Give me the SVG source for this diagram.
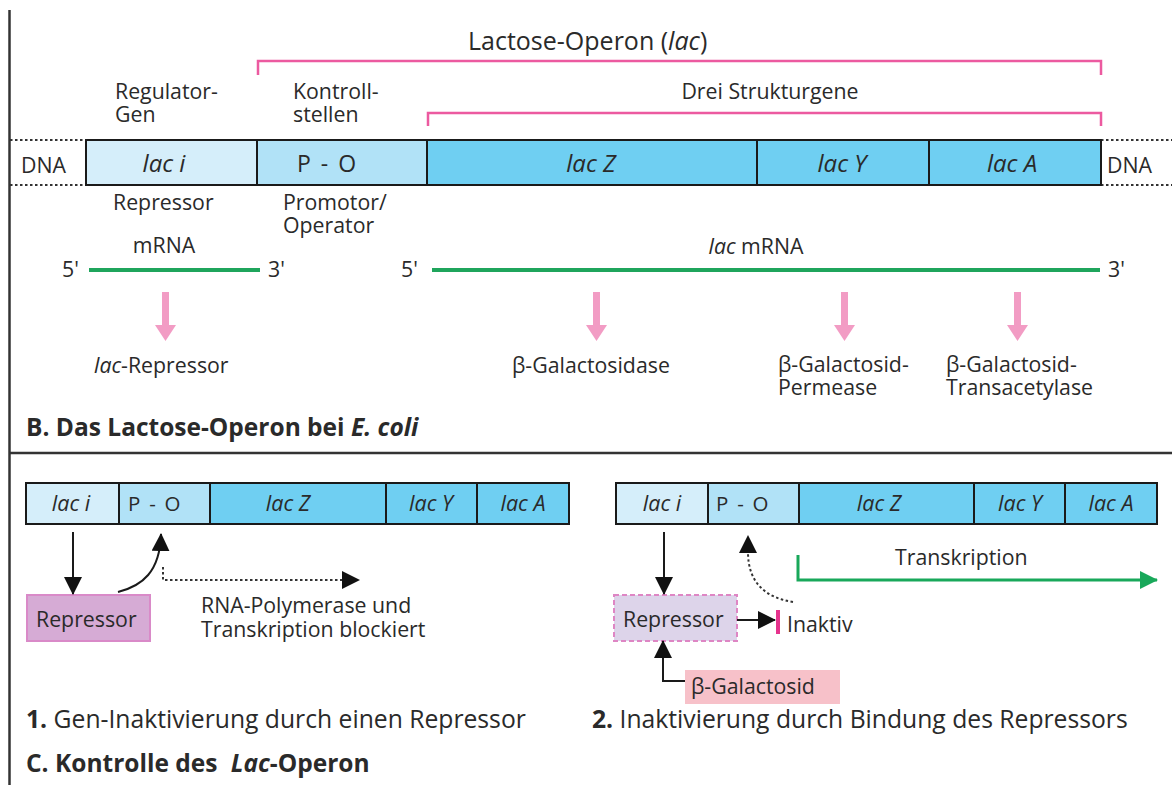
<svg xmlns="http://www.w3.org/2000/svg" width="1172" height="785" viewBox="0 0 1172 785">
<defs>
<style>
text{font-family:"Open Sans","Liberation Sans",sans-serif;fill:#2a2a2a}
.lbl{font-size:21.3px}
.gene{font-size:24px;font-style:italic;text-anchor:middle}
.gene2{font-size:21.5px;font-style:italic;text-anchor:middle}
.po{font-size:23px;word-spacing:4px}
.po2{font-size:20.5px;word-spacing:3.5px}
.cap{font-size:24.7px}
.title{font-size:24.5px;font-weight:bold}
.box{stroke:#1a1a1a;stroke-width:2}
.c1{fill:#d5eefa}
.c2{fill:#b1e2f7}
.c3{fill:#6fcff2}
.brk{fill:none;stroke:#ec5aa0;stroke-width:2.5}
.mrna{stroke:#1fa55c;stroke-width:4}
.dots{stroke:#333;stroke-width:2;stroke-dasharray:2.5,2.5}
.pk{fill:#f29cc4}
.blk{fill:none;stroke:#1a1a1a;stroke-width:2}
</style>
<marker id="ah" viewBox="0 0 18 18" refX="17" refY="9" markerWidth="18" markerHeight="18" markerUnits="userSpaceOnUse" orient="auto">
<path d="M0,0 L18,9 L0,18 z" fill="#111"/>
</marker>
<marker id="ahg" viewBox="0 0 18 18" refX="17" refY="9" markerWidth="18" markerHeight="18" markerUnits="userSpaceOnUse" orient="auto">
<path d="M0,0 L18,9 L0,18 z" fill="#19a85a"/>
</marker>
</defs>
<rect width="1172" height="785" fill="#fff"/>
<g id="frame">
<line x1="9.5" y1="10" x2="9.5" y2="785" stroke="#333" stroke-width="2.5"/>
<line x1="9" y1="453" x2="1172" y2="453" stroke="#333" stroke-width="2.5"/>
</g>

<!-- Section B -->
<g id="operon-label">
<text x="468" y="50" style="font-size:25px">Lactose-Operon (<tspan font-style="italic">lac</tspan>)</text>
<path class="brk" d="M258,75 V61 H1101 V75"/>
<text x="770" y="99" class="lbl" text-anchor="middle">Drei Strukturgene</text>
<path class="brk" d="M428,126 V113 H1101 V126"/>
</g>
<g id="top-labels">
<text x="115" y="99" class="lbl">Regulator-<tspan x="115" dy="23">Gen</tspan></text>
<text x="293" y="99" class="lbl">Kontroll-<tspan x="293" dy="23">stellen</tspan></text>
</g>
<g id="dna">
<line class="dots" x1="10" y1="140" x2="86" y2="140"/>
<line class="dots" x1="10" y1="185" x2="86" y2="185"/>
<line class="dots" x1="1101" y1="140" x2="1172" y2="140"/>
<line class="dots" x1="1101" y1="185" x2="1172" y2="185"/>
<text x="21" y="173" class="lbl">DNA</text>
<text x="1107" y="173" class="lbl">DNA</text>
</g>
<g id="gene-laci"><rect class="box c1" x="86" y="140" width="171" height="45"/><text x="164" y="172" class="gene">lac i</text></g>
<g id="gene-po"><rect class="box c2" x="257" y="140" width="170" height="45"/><text x="297" y="172" class="po">P - O</text></g>
<g id="gene-lacz"><rect class="box c3" x="427" y="140" width="330" height="45"/><text x="591" y="172" class="gene">lac Z</text></g>
<g id="gene-lacy"><rect class="box c3" x="757" y="140" width="172" height="45"/><text x="842" y="172" class="gene">lac Y</text></g>
<g id="gene-laca"><rect class="box c3" x="929" y="140" width="172" height="45"/><text x="1012" y="172" class="gene">lac A</text></g>
<g id="below-labels">
<text x="113" y="210" class="lbl">Repressor</text>
<text x="283" y="210" class="lbl">Promotor/<tspan x="283" dy="23">Operator</tspan></text>
<text x="164" y="253" class="lbl" text-anchor="middle">mRNA</text>
<text x="756" y="254" class="lbl" text-anchor="middle"><tspan font-style="italic">lac</tspan> mRNA</text>
</g>
<g id="mrna">
<text x="62" y="277" class="lbl">5'</text>
<line class="mrna" x1="89" y1="270" x2="260" y2="270"/>
<text x="268" y="277" class="lbl">3'</text>
<text x="401" y="277" class="lbl">5'</text>
<line class="mrna" x1="432" y1="270" x2="1100" y2="270"/>
<text x="1108" y="277" class="lbl">3'</text>
</g>
<g id="translation-arrows">
<path class="pk" d="M162,292 H169 V325 H176 L165.5,341 L155,325 H162 Z"/>
<path class="pk" d="M593,292 H600 V325 H607 L596.5,341 L586,325 H593 Z"/>
<path class="pk" d="M841,292 H848 V325 H855 L844.5,341 L834,325 H841 Z"/>
<path class="pk" d="M1014,292 H1021 V325 H1028 L1017.5,341 L1007,325 H1014 Z"/>
</g>
<g id="products">
<text x="94" y="373" class="lbl"><tspan font-style="italic">lac</tspan>-Repressor</text>
<text x="512" y="373" class="lbl">β-Galactosidase</text>
<text x="778" y="372" class="lbl">β-Galactosid-<tspan x="778" dy="23">Permease</tspan></text>
<text x="946" y="372" class="lbl">β-Galactosid-<tspan x="946" dy="23">Transacetylase</tspan></text>
</g>
<text x="26" y="436" class="title">B. Das Lactose-Operon bei <tspan font-style="italic">E. coli</tspan></text>

<!-- Section C1 -->
<g id="c1-bar">
<rect class="box c1" x="26" y="483" width="93" height="41"/><text x="71" y="511" class="gene2">lac i</text>
<rect class="box c2" x="119" y="483" width="91" height="41"/><text x="128" y="511" class="po2">P - O</text>
<rect class="box c3" x="210" y="483" width="176" height="41"/><text x="288" y="511" class="gene2">lac Z</text>
<rect class="box c3" x="386" y="483" width="91" height="41"/><text x="431" y="511" class="gene2">lac Y</text>
<rect class="box c3" x="477" y="483" width="92" height="41"/><text x="523" y="511" class="gene2">lac A</text>
</g>
<g id="c1-repressor">
<rect x="27" y="595" width="123" height="46" fill="#d6abd5" stroke="#d98ac8" stroke-width="2"/>
<text x="36" y="627" class="lbl">Repressor</text>
</g>
<g id="c1-connectors">
<path class="blk" d="M73,532 V594" marker-end="url(#ah)"/>
<path class="blk" d="M118,592 C142,586 160,572 161,534" marker-end="url(#ah)"/>
<path class="dots" fill="none" d="M163,567 V580 H355"/>
<path d="M342,571 L360,580 L342,589 z" fill="#111"/>
</g>
<text x="201" y="613" class="lbl">RNA-Polymerase und<tspan x="201" dy="24">Transkription blockiert</tspan></text>
<text x="26" y="728" class="cap"><tspan font-weight="bold">1.</tspan> Gen-Inaktivierung durch einen Repressor</text>
<text x="26" y="772" class="title">C. Kontrolle des <tspan dx="7" font-style="italic">Lac</tspan>-Operon</text>

<!-- Section C2 -->
<g id="c2-bar">
<rect class="box c1" x="616" y="483" width="92" height="41"/><text x="662" y="511" class="gene2">lac i</text>
<rect class="box c2" x="708" y="483" width="91" height="41"/><text x="716" y="511" class="po2">P - O</text>
<rect class="box c3" x="799" y="483" width="175" height="41"/><text x="879" y="511" class="gene2">lac Z</text>
<rect class="box c3" x="974" y="483" width="91" height="41"/><text x="1020" y="511" class="gene2">lac Y</text>
<rect class="box c3" x="1065" y="483" width="92" height="41"/><text x="1111" y="511" class="gene2">lac A</text>
</g>
<g id="c2-repressor">
<rect x="614" y="595" width="123" height="46" fill="#ddd4ea" stroke="#de86c4" stroke-width="2" stroke-dasharray="5,3"/>
<text x="623" y="627" class="lbl">Repressor</text>
</g>
<g id="c2-galactosid">
<rect x="685" y="670" width="155" height="34" fill="#f7c1c9"/>
<text x="691" y="694" class="lbl">β-Galactosid</text>
</g>
<g id="c2-connectors">
<path class="blk" d="M664,532 V594" marker-end="url(#ah)"/>
<path class="blk" d="M737,620 H775" marker-end="url(#ah)"/>
<line x1="778" y1="610" x2="778" y2="634" stroke="#e6338d" stroke-width="4"/>
<path class="dots" fill="none" d="M793,602 C768,598 748,585 748,552"/>
<path d="M739,553 L748,535 L757,553 z" fill="#111"/>
<path class="blk" d="M685,681 H663 V641" marker-end="url(#ah)"/>
<path fill="none" stroke="#19a85a" stroke-width="3" d="M798,555 V580 H1157" marker-end="url(#ahg)"/>
</g>
<text x="787" y="632" class="lbl">Inaktiv</text>
<text x="895" y="565" class="lbl">Transkription</text>
<text x="592" y="728" class="cap"><tspan font-weight="bold">2.</tspan> Inaktivierung durch Bindung des Repressors</text>
</svg>
